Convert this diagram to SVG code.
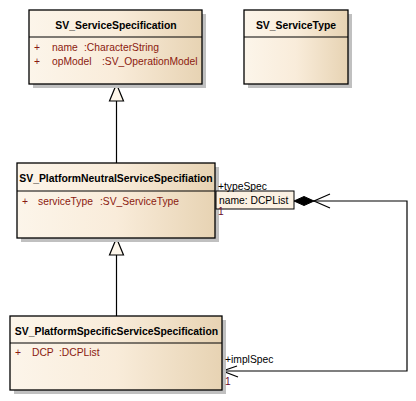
<svg xmlns="http://www.w3.org/2000/svg" width="416" height="401" viewBox="0 0 416 401">
  <defs>
    <linearGradient id="classFill" x1="0" y1="0" x2="1" y2="0">
      <stop offset="0" stop-color="#fcf5ea"/>
      <stop offset="0.5" stop-color="#f9ecda"/>
      <stop offset="1" stop-color="#e7d3b3"/>
    </linearGradient>
    <style>
      .shadow { fill: #c0c0c0; }
      .box { fill: url(#classFill); stroke: #000; stroke-width: 1.3; }
      .sep { stroke: #000; stroke-width: 1; }
      .title { font-family: "Liberation Sans", Arial, sans-serif; font-weight: bold; font-size: 10.4px; fill: #000; text-anchor: middle; }
      .attr { font-family: "Liberation Sans", Arial, sans-serif; font-size: 10.3px; fill: #8b1a10; }
      .role { font-family: "Liberation Sans", Arial, sans-serif; font-size: 10.3px; fill: #000; }
      .mult { font-family: "Liberation Sans", Arial, sans-serif; font-size: 10.3px; fill: #6a0a30; }
      .line { fill: none; stroke: #000; stroke-width: 1.2; }
      .gen { fill: #fdf6ea; stroke: #000; stroke-width: 1.2; }
    </style>
  </defs>

  <!-- connectors -->
  <g id="connectors">
    <!-- generalization: neutral -> service specification -->
    <line class="line" x1="116.5" y1="163" x2="116.5" y2="101"/>
    <polygon class="gen" points="116.5,84 109.5,101 123.5,101"/>
    <!-- generalization: specific -> neutral -->
    <line class="line" x1="116.5" y1="316" x2="116.5" y2="255"/>
    <polygon class="gen" points="116.5,238 109.5,255 123.5,255"/>
    <!-- qualified composition typeSpec / implSpec -->
    <polyline class="line" points="314,201 407,201 407,371 222.5,371"/>
    <polygon points="294,201 304,196.5 314,201 304,205.5" fill="#000" stroke="#000" stroke-width="1"/>
    <polyline class="line" points="330,194 314,201 330,208"/>
    <polyline class="line" points="237,366 222.5,371 238,377"/>
  </g>

  <!-- SV_ServiceSpecification -->
  <g id="SV_ServiceSpecification">
    <rect class="shadow" x="33" y="14" width="173" height="74"/>
    <rect class="box" x="29" y="10" width="173" height="74"/>
    <line class="sep" x1="29" y1="37" x2="202" y2="37"/>
    <text class="title" x="116" y="29">SV_ServiceSpecification</text>
    <text class="attr" x="34" y="51">+</text>
    <text class="attr" x="52" y="51">name</text>
    <text class="attr" x="84" y="51">:CharacterString</text>
    <text class="attr" x="34" y="65">+</text>
    <text class="attr" x="52" y="65">opModel</text>
    <text class="attr" x="102" y="65">:SV_OperationModel</text>
  </g>

  <!-- SV_ServiceType -->
  <g id="SV_ServiceType">
    <rect class="shadow" x="248" y="14" width="104" height="74"/>
    <rect class="box" x="244" y="10" width="104" height="74"/>
    <line class="sep" x1="244" y1="37" x2="348" y2="37"/>
    <text class="title" x="296" y="29">SV_ServiceType</text>
  </g>

  <!-- SV_PlatformNeutralServiceSpecifiation -->
  <g id="SV_PlatformNeutralServiceSpecifiation">
    <rect class="shadow" x="21" y="167" width="198" height="75"/>
    <rect class="box" x="17" y="163" width="198" height="75"/>
    <line class="sep" x1="17" y1="191" x2="215" y2="191"/>
    <text class="title" x="116" y="182">SV_PlatformNeutralServiceSpecifiation</text>
    <text class="attr" x="22" y="205">+</text>
    <text class="attr" x="38" y="205">serviceType</text>
    <text class="attr" x="100" y="205">:SV_ServiceType</text>
  </g>

  <!-- SV_PlatformSpecificServiceSpecification -->
  <g id="SV_PlatformSpecificServiceSpecification">
    <rect class="shadow" x="14" y="320" width="212" height="74"/>
    <rect class="box" x="10" y="316" width="212" height="74"/>
    <line class="sep" x1="10" y1="343" x2="222" y2="343"/>
    <text class="title" x="116.5" y="335">SV_PlatformSpecificServiceSpecification</text>
    <text class="attr" x="15" y="356">+</text>
    <text class="attr" x="32" y="356">DCP</text>
    <text class="attr" x="59" y="356">:DCPList</text>
  </g>

  <!-- qualifier and association end labels -->
  <g id="qualifier">
    <rect x="216" y="191" width="78" height="18" fill="#fbf1e2" stroke="#000" stroke-width="1"/>
    <text class="role" x="219" y="204">name: DCPList</text>
  </g>
  <g id="labels">
    <text class="role" x="218" y="190">+typeSpec</text>
    <text class="mult" x="218" y="215">1</text>
    <text class="role" x="225" y="363">+implSpec</text>
    <text class="mult" x="225" y="385">1</text>
  </g>
</svg>
